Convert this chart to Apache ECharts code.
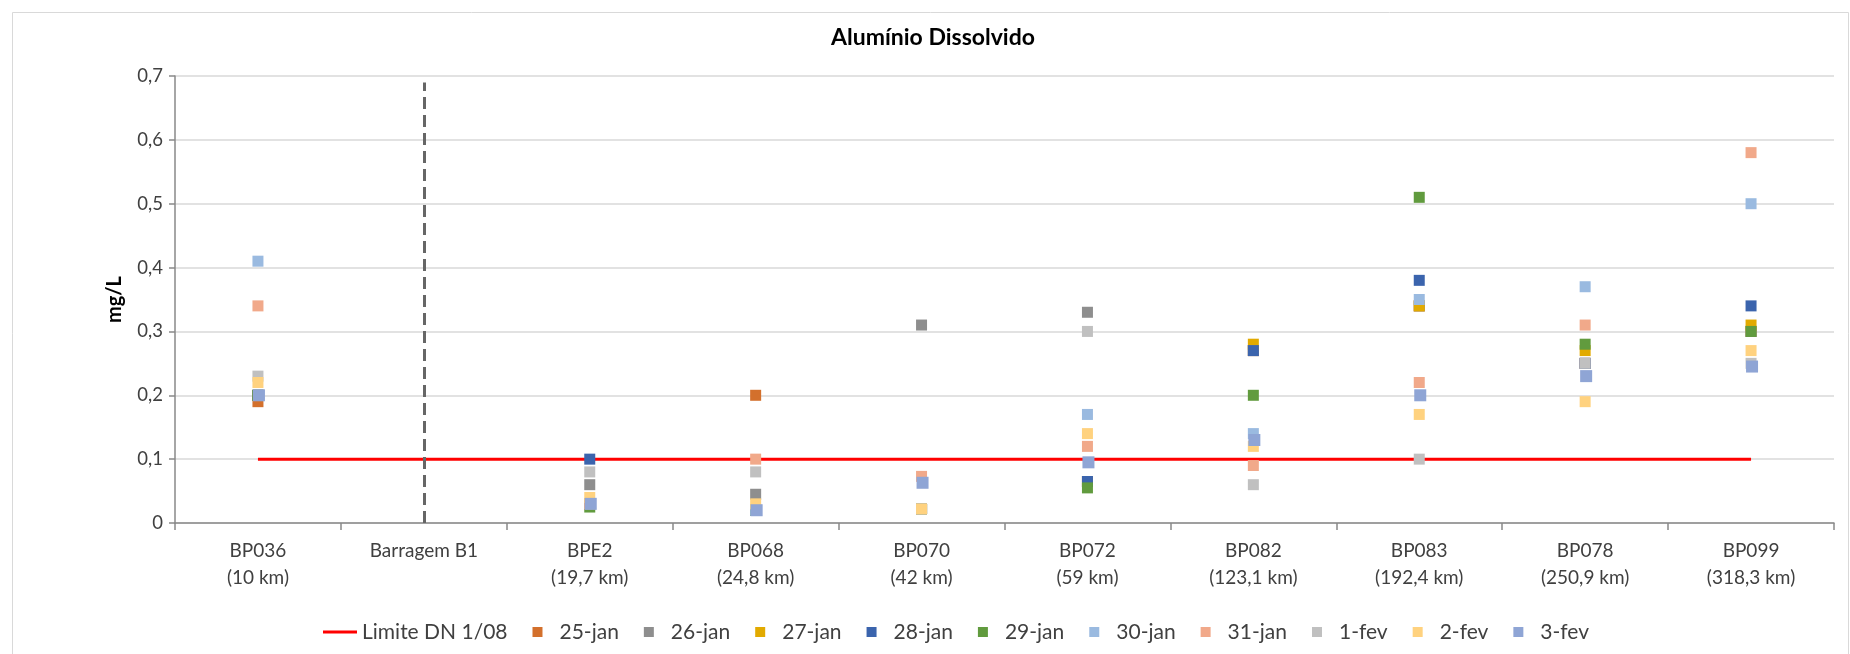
<!DOCTYPE html>
<html>
<head>
<meta charset="utf-8">
<script src="https://cdn.jsdelivr.net/npm/echarts@6/dist/echarts.min.js"></script>
<style>
html,body{margin:0;padding:0;background:#fff;}
#c{width:1850px;height:654px;}
</style>
</head>
<body>
<div id="c"></div>
<script>
// ---- data ----
const categories = ['BP036\n(10 km)', 'Barragem B1', 'BPE2\n(19,7 km)', 'BP068\n(24,8 km)', 'BP070\n(42 km)',
  'BP072\n(59 km)', 'BP082\n(123,1 km)', 'BP083\n(192,4 km)', 'BP078\n(250,9 km)', 'BP099\n(318,3 km)'];
const damCategory = 'Barragem B1';
const damTop = 0.69;
const limitName = 'Limite DN 1/08';
const limitValues = [0.1, 0.1, 0.1, 0.1, 0.1, 0.1, 0.1, 0.1, 0.1, 0.1];
const seriesNames = ['25-jan', '26-jan', '27-jan', '28-jan', '29-jan', '30-jan', '31-jan', '1-fev', '2-fev', '3-fev'];
const v25jan = [0.19, null, 0.03, 0.20, 0.022, 0.065, 0.27, 0.34, 0.25, 0.30];
const v26jan = [0.20, null, 0.06, 0.045, 0.31, 0.33, 0.27, 0.34, 0.25, 0.30];
const v27jan = [0.20, null, 0.03, 0.02, 0.022, 0.065, 0.28, 0.34, 0.27, 0.31];
const v28jan = [0.20, null, 0.10, 0.02, 0.022, 0.065, 0.27, 0.38, 0.25, 0.34];
const v29jan = [0.20, null, 0.025, 0.02, 0.022, 0.055, 0.20, 0.51, 0.28, 0.30];
const v30jan = [0.41, null, 0.03, 0.02, 0.022, 0.17, 0.14, 0.35, 0.37, 0.50];
const v31jan = [0.34, null, 0.03, 0.10, 0.073, 0.12, 0.09, 0.22, 0.31, 0.58];
const v1fev  = [0.23, null, 0.08, 0.08, 0.022, 0.30, 0.06, 0.10, 0.25, 0.25];
const v2fev  = [0.22, null, 0.04, 0.03, 0.022, 0.14, 0.12, 0.17, 0.19, 0.27];
const v3fev  = [0.20, null, 0.03, 0.02, 0.063, 0.095, 0.13, 0.20, 0.23, 0.245];
const seriesValues = [v25jan, v26jan, v27jan, v28jan, v29jan, v30jan, v31jan, v1fev, v2fev, v3fev];
const yTicks = [0, 0.1, 0.2, 0.3, 0.4, 0.5, 0.6, 0.7];

// ---- styles ----
const colors = ['#D3702C', '#8E8E8E', '#E2AA00', '#3B64AD', '#619B3E', '#9ABAE0', '#F1A98A', '#C0C0C0', '#FFD27F', '#8FA5D5'];
const FONT = 'Lato';
const TXT = '#404040';

const chart = echarts.init(document.getElementById('c'), null, {renderer: 'canvas'});

const scatterSeries = seriesNames.map((n, i) => ({
  name: n,
  type: 'scatter',
  symbol: 'rect',
  symbolSize: i === 9 ? 12 : 11,
  symbolOffset: i === 9 ? [1, 0] : [0, 0],
  itemStyle: {color: colors[i], opacity: 1},
  data: seriesValues[i],
  z: 3 + i
}));

const legendData = [{name: limitName, icon: 'path://M0,0h34v3h-34z'}].concat(
  seriesNames.map(n => ({name: n, icon: 'path://M0,0h10v10h-10z'}))
);

chart.setOption({
  animation: false,
  backgroundColor: '#fff',
  textStyle: {fontFamily: FONT},
  graphic: [{
    type: 'rect', left: 10, top: 10, silent: true,
    shape: {width: 1836, height: 680},
    style: {fill: 'none', stroke: '#d9d9d9', lineWidth: 1}
  }],
  title: {
    text: 'Alumínio Dissolvido',
    left: 933, top: 26, padding: 0, textAlign: 'center',
    textStyle: {fontFamily: FONT, fontSize: 23, fontWeight: 'bold', color: '#000'}
  },
  legend: {
    data: legendData,
    left: 323, top: 621, padding: 0,
    itemWidth: 34, itemHeight: 10, itemGap: 25,
    symbolKeepAspect: true,
    textStyle: {fontFamily: FONT, fontSize: 21, color: TXT, lineHeight: 22, padding: [0, 0, 0, 0]}
  },
  grid: {left: 175, right: 16, top: 76, bottom: 131, containLabel: false},
  xAxis: {
    type: 'category',
    data: categories,
    boundaryGap: true,
    axisLine: {lineStyle: {color: '#898989', width: 1.5}},
    axisTick: {show: true, interval: 0, length: 7, lineStyle: {color: '#898989', width: 1.5}},
    axisLabel: {interval: 0, margin: 14, fontFamily: FONT, fontSize: 19, lineHeight: 27, color: TXT},
    splitLine: {show: false}
  },
  yAxis: {
    type: 'value',
    min: yTicks[0], max: yTicks[yTicks.length - 1], interval: 0.1,
    name: 'mg/L', nameLocation: 'middle', nameRotate: 90, nameGap: 50,
    nameTextStyle: {fontFamily: FONT, fontSize: 20, fontWeight: 'bold', color: '#000'},
    axisLine: {show: true, lineStyle: {color: '#898989', width: 1.5}},
    axisTick: {show: true, length: 6, lineStyle: {color: '#898989', width: 1.5}},
    axisLabel: {
      margin: 12, fontFamily: FONT, fontSize: 18.5, color: TXT,
      formatter: v => (Math.abs(v) < 1e-9 ? '0' : v.toFixed(1).replace('.', ','))
    },
    splitLine: {show: true, lineStyle: {color: '#d9d9d9', width: 1.5}}
  },
  series: [{
    name: limitName,
    type: 'line',
    data: limitValues,
    symbol: 'none',
    lineStyle: {color: '#ff0000', width: 3},
    itemStyle: {color: '#ff0000'},
    z: 2,
    markLine: {
      silent: true,
      symbol: ['none', 'none'],
      label: {show: false},
      lineStyle: {color: '#666666', width: 3, type: [12, 6]},
      data: [[{coord: [damCategory, 0]}, {coord: [damCategory, damTop]}]]
    }
  }].concat(scatterSeries)
});
</script>
</body>
</html>
